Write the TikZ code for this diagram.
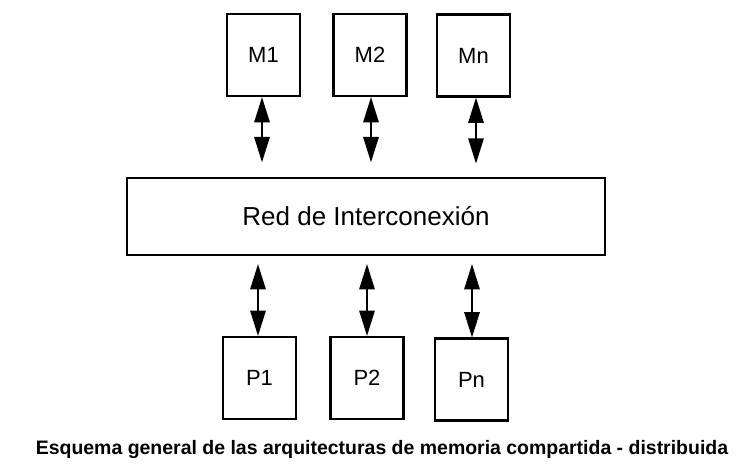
\documentclass[tikz,border=0pt]{standalone}
\usepackage{fontspec}
\setmainfont{Liberation Sans}
\usetikzlibrary{arrows.meta}

\tikzset{
  caja/.style={draw, line width=1.6pt, minimum width=54.75pt, minimum height=61.5pt, inner sep=0pt, font=\fontsize{16.5}{18}\selectfont},
  enlace/.style={line width=1.5pt, {Triangle[length=19pt,width=11.5pt]}-{Triangle[length=19pt,width=11.5pt]}}
}

\begin{document}
\begin{tikzpicture}[x=0.75pt,y=0.75pt,yscale=-1,xscale=1]
\useasboundingbox (0,0) rectangle (744,469);

%Shape: Rectangle (memorias)
\node[caja] (m1) at (263.5,55) {M1};
\node[caja] (m2) at (370,55) {M2};
\node[caja] (mn) at (473.5,55.5) {Mn};

%Shape: Rectangle (red)
\node[draw, line width=1.6pt, minimum width=358.5pt, minimum height=57.75pt, inner sep=0pt, font=\fontsize{19.5}{22}\selectfont] (red) at (366,216.5) {Red de Interconexi\'on};

%Shape: Rectangle (procesadores)
\node[caja] (p1) at (259.5,378) {P1};
\node[caja] (p2) at (367,378) {P2};
\node[caja] (pn) at (471.5,379.5) {Pn};

%Straight Lines
\draw[enlace, shorten >=11pt] (m1.south -| 262,0) -- (262,0 |- red.north);
\draw[enlace, shorten >=11pt] (m2.south -| 371,0) -- (371,0 |- red.north);
\draw[enlace, shorten >=10pt] (mn.south -| 476,0) -- (476,0 |- red.north);
\draw[enlace, shorten <=6pt] (258,0 |- red.south) -- (p1.north -| 258,0);
\draw[enlace, shorten <=6pt] (367,0 |- red.south) -- (p2.north -| 367,0);
\draw[enlace, shorten <=6pt] (472,0 |- red.south) -- (pn.north -| 472,0);

% Text Node
\node[anchor=base, font=\bfseries\fontsize{14.6}{17}\selectfont] (pie) at (382,454) {Esquema general de las arquitecturas de memoria compartida - distribuida};

\end{tikzpicture}
\end{document}
